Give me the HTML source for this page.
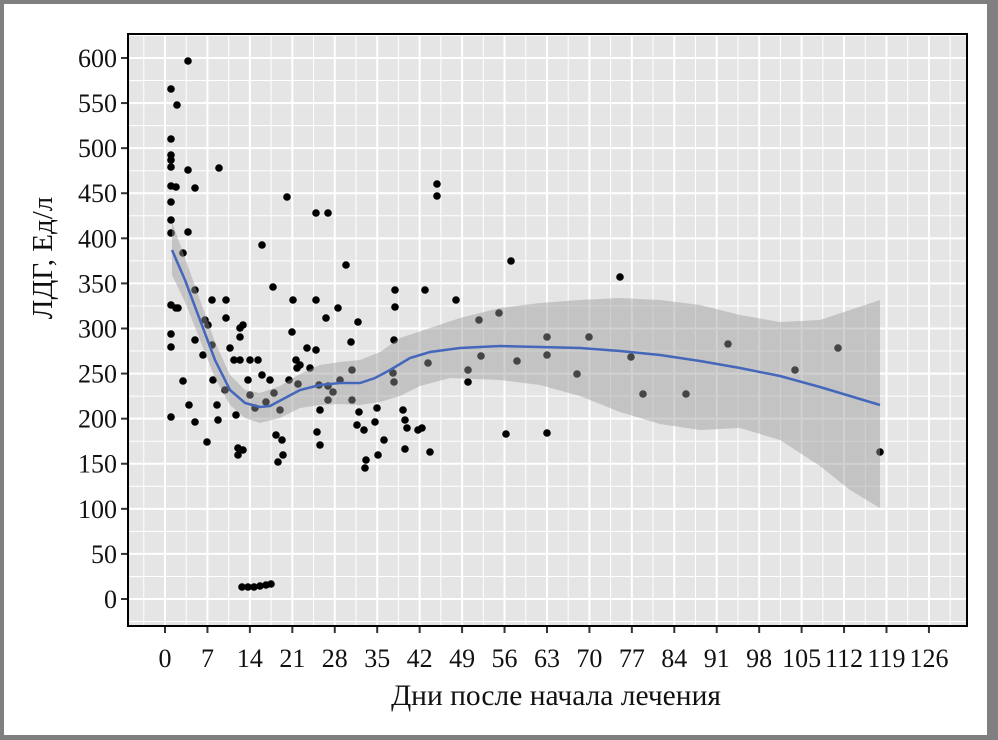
<!DOCTYPE html>
<html><head><meta charset="utf-8"><style>
html,body{margin:0;padding:0;background:#fff}
svg{display:block}
text{font-family:"Liberation Serif",serif;fill:#111}
</style></head><body>
<svg width="998" height="740" viewBox="0 0 998 740" xmlns="http://www.w3.org/2000/svg">
<rect x="0" y="0" width="998" height="740" fill="#808080"/>
<rect x="4" y="4" width="983" height="731" fill="#fff"/>
<rect x="128" y="34" width="839" height="592" fill="#e5e5e5"/>
<g id="grid"></g>
<g id="pts" fill="#000"></g>
<path id="rib" fill="#999" fill-opacity="0.45" stroke="none"/>
<path id="ln" fill="none" stroke="#4466bb" stroke-width="2.5"/>
<rect x="128" y="34" width="839" height="592" fill="none" stroke="#000" stroke-width="2"/>
<g id="ticks" stroke="#333" stroke-width="2"></g>
<g id="labs" font-size="26"></g>
<text x="556" y="705" font-size="29.5" text-anchor="middle">Дни после начала лечения</text>
<text transform="translate(52,258) rotate(-90)" font-size="29" text-anchor="middle">ЛДГ, Ед/л</text>
</svg>
<script>
const ns="http://www.w3.org/2000/svg";
function el(p,t,a,txt){const e=document.createElementNS(ns,t);for(const k in a)e.setAttribute(k,a[k]);if(txt!==undefined)e.textContent=txt;document.getElementById(p).appendChild(e);}
const X=d=>165+d*6.063, Y=v=>599-v*0.9017;
for(let d=-3.5;d<=132;d+=3.5){const maj=Math.round(d*2)%14==0;el('grid','line',{x1:X(d),x2:X(d),y1:34,y2:626,stroke:'#fff','stroke-width':maj?2:1});}
for(let v=-25;v<=625;v+=25){const maj=v%50==0;el('grid','line',{x1:128,x2:967,y1:Y(v),y2:Y(v),stroke:'#fff','stroke-width':maj?2:1});}
for(let d=0;d<=126;d+=7){el('ticks','line',{x1:X(d),x2:X(d),y1:627,y2:633});el('labs','text',{x:X(d),y:667,'text-anchor':'middle'},d);}
for(let v=0;v<=600;v+=50){el('ticks','line',{x1:121,x2:127,y1:Y(v),y2:Y(v)});el('labs','text',{x:117,y:Y(v)+9,'text-anchor':'end'},v);}
const P=[[188,61],[171,89],[177,105],[171,139],[171,155],[171,160],[176,187],[171,167],[171,186],[171,202],[171,220],[171,233],[188,170],[195,188],[219,168],[188,232],[183,253],[171,305],[176,308],[171,334],[171,347],[178,308],[195,290],[183,381],[189,405],[195,422],[171,417],[207,442],[195,340],[205,320],[212,300],[208,325],[212,345],[203,355],[213,380],[217,405],[218,420],[226,300],[226,318],[230,348],[234,360],[240,360],[240,328],[243,325],[240,337],[236,415],[238,448],[238,455],[243,450],[250,360],[248,380],[258,360],[262,375],[255,408],[262,245],[273,287],[274,393],[280,410],[276,435],[282,440],[283,455],[278,462],[287,197],[289,380],[296,360],[292,332],[293,300],[300,365],[297,368],[298,384],[307,348],[310,368],[316,350],[316,300],[316,213],[328,213],[326,318],[319,385],[320,410],[317,432],[320,445],[328,386],[328,400],[333,392],[338,308],[340,380],[346,265],[351,342],[352,370],[358,322],[352,400],[359,412],[357,425],[364,430],[365,468],[366,460],[377,408],[375,422],[378,455],[384,440],[394,382],[394,340],[395,290],[395,307],[393,373],[403,410],[405,420],[407,428],[405,449],[418,430],[422,428],[425,290],[428,363],[430,452],[437,184],[437,196],[456,300],[468,370],[468,382],[479,320],[481,356],[499,313],[506,434],[511,261],[517,361],[547,337],[547,355],[547,433],[577,374],[589,337],[620,277],[631,357],[643,394],[686,394],[728,344],[795,370],[838,348],[880,452],[242,587],[248,587],[254,587],[260,586],[266,585],[271,584],[225,390],[250,395],[266,402],[270,380]];
P.forEach(p=>el('pts','circle',{cx:p[0],cy:p[1],r:3.8}));
const L=[[172,250],[185,280],[200,320],[215,360],[230,390],[245,403],[260,407],[270,406],[285,398],[300,390],[320,385],[340,383],[360,383],[375,378],[390,370],[410,358],[430,352],[460,348],[500,346],[540,347],[580,348],[620,351],[660,355],[700,361],[740,368],[780,376],[820,387],[850,396],[880,405]];
const U=[[172,222],[185,258],[200,300],[215,342],[230,375],[245,390],[260,393],[280,386],[300,374],[320,365],[340,362],[360,360],[380,352],[400,338],[430,328],[460,318],[500,308],[540,303],[580,300],[620,298],[660,300],[700,305],[740,315],[780,322],[820,320],[850,310],[880,300]];
const B=[[172,275],[185,302],[200,340],[215,378],[230,405],[245,418],[260,423],[280,418],[300,408],[320,405],[340,404],[360,405],[380,402],[400,396],[420,386],[450,378],[500,380],[540,385],[580,396],[620,412],[660,424],[700,430],[740,428],[780,440],[820,466],[850,490],[880,508]];
document.getElementById('ln').setAttribute('d','M'+L.map(p=>p.join(',')).join(' L'));
document.getElementById('rib').setAttribute('d','M'+U.map(p=>p.join(',')).join(' L')+' L'+B.slice().reverse().map(p=>p.join(',')).join(' L')+'Z');
</script>
</body></html>
